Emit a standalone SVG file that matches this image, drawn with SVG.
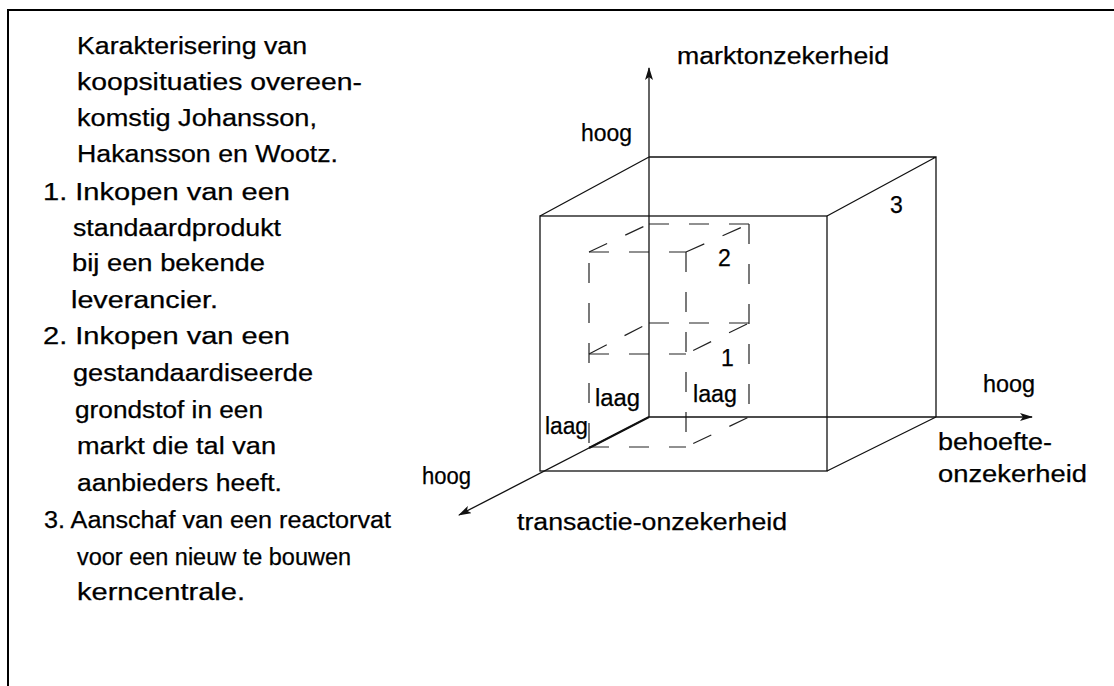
<svg xmlns="http://www.w3.org/2000/svg" width="1114" height="686" viewBox="0 0 1114 686">
<style>
  text { font-family: "Liberation Sans", Arial, sans-serif; font-size: 23px; fill: #000; stroke: #000; stroke-width: 0.25; }
  .solid { stroke: #111; stroke-width: 1.3; fill: none; }
  .dash { stroke: #222; stroke-width: 1.2; fill: none; stroke-dasharray: 20 20; }
  .axis { stroke: #111; stroke-width: 1.3; fill: none; marker-end: url(#ah); }
</style>
<defs>
  <marker id="ah" viewBox="0 0 13 8" refX="12" refY="4" markerWidth="13" markerHeight="8" orient="auto" markerUnits="userSpaceOnUse">
    <path d="M0,0 L13,4 L0,8 L3,4 z" fill="#111"/>
  </marker>
</defs>
<rect width="1114" height="686" fill="#fff"/>
<g id="frame">
  <path d="M8,686 L8,10 L1114,10" stroke="#000" stroke-width="2" fill="none"/>
</g>
<g id="description">
  <text x="77" y="54" textLength="230" lengthAdjust="spacingAndGlyphs">Karakterisering van</text>
  <text x="77" y="90" textLength="285" lengthAdjust="spacingAndGlyphs">koopsituaties overeen-</text>
  <text x="77" y="126" textLength="240" lengthAdjust="spacingAndGlyphs">komstig Johansson,</text>
  <text x="77" y="162" textLength="261" lengthAdjust="spacingAndGlyphs">Hakansson en Wootz.</text>
  <text x="43" y="200" textLength="247" lengthAdjust="spacingAndGlyphs">1. Inkopen van een</text>
  <text x="73" y="236" textLength="208" lengthAdjust="spacingAndGlyphs">standaardprodukt</text>
  <text x="72" y="271" textLength="193" lengthAdjust="spacingAndGlyphs">bij een bekende</text>
  <text x="71" y="308" textLength="147" lengthAdjust="spacingAndGlyphs">leverancier.</text>
  <text x="43" y="344" textLength="247" lengthAdjust="spacingAndGlyphs">2. Inkopen van een</text>
  <text x="73" y="381" textLength="240" lengthAdjust="spacingAndGlyphs">gestandaardiseerde</text>
  <text x="75" y="418" textLength="188" lengthAdjust="spacingAndGlyphs">grondstof in een</text>
  <text x="77" y="454" textLength="199" lengthAdjust="spacingAndGlyphs">markt die tal van</text>
  <text x="77" y="491" textLength="205" lengthAdjust="spacingAndGlyphs">aanbieders heeft.</text>
  <text x="44" y="528" textLength="347" lengthAdjust="spacingAndGlyphs">3. Aanschaf van een reactorvat</text>
  <text x="77" y="565" textLength="274" lengthAdjust="spacingAndGlyphs">voor een nieuw te bouwen</text>
  <text x="77" y="600" textLength="168" lengthAdjust="spacingAndGlyphs">kerncentrale.</text>
</g>
<g id="cube">
  <rect class="solid" x="540" y="216" width="287" height="255"/>
  <path class="solid" d="M649,157 L936,157 L936,417 M540,216 L649,157 M827,216 L936,157 M827,471 L936,417"/>
</g>
<g id="inner-boxes">
  <path class="dash" d="M649,224 L749,224"/>
  <path class="dash" d="M649,323 L749,323"/>
  <path class="dash" d="M589,252 L686,252"/>
  <path class="dash" d="M589,354 L686,354"/>
  <path class="dash" d="M589,447 L686,447"/>
  <path class="dash" d="M589,252 L589,447" style="stroke-dashoffset:29"/>
  <path class="dash" d="M686,252 L686,447"/>
  <path class="dash" d="M749,224 L749,417"/>
  <path class="dash" d="M589,252 L649,224"/>
  <path class="dash" d="M686,252 L749,224"/>
  <path class="dash" d="M589,354 L649,323"/>
  <path class="dash" d="M686,354 L749,323" style="stroke-dashoffset:32"/>
  <path class="dash" d="M686,447 L749,417" style="stroke-dashoffset:32"/>
  <path d="M649,417 L589,448" stroke="#111" stroke-width="2" fill="none"/>
</g>
<g id="axes">
  <path class="axis" d="M649,417 L649,68"/>
  <path class="axis" d="M649,417 L1032,417"/>
  <path class="axis" d="M649,417 L459,515"/>
</g>
<g id="labels">
  <text x="677" y="64" textLength="212" lengthAdjust="spacingAndGlyphs">marktonzekerheid</text>
  <text x="581" y="141" textLength="51" lengthAdjust="spacingAndGlyphs">hoog</text>
  <text x="890" y="213">3</text>
  <text x="718" y="266">2</text>
  <text x="721" y="366">1</text>
  <text x="595" y="406" textLength="45" lengthAdjust="spacingAndGlyphs">laag</text>
  <text x="693" y="402" textLength="44" lengthAdjust="spacingAndGlyphs">laag</text>
  <text x="545" y="434" textLength="43" lengthAdjust="spacingAndGlyphs">laag</text>
  <text x="983" y="392" textLength="52" lengthAdjust="spacingAndGlyphs">hoog</text>
  <text x="938" y="450" textLength="114" lengthAdjust="spacingAndGlyphs">behoefte-</text>
  <text x="938" y="482" textLength="149" lengthAdjust="spacingAndGlyphs">onzekerheid</text>
  <text x="422" y="484" textLength="49" lengthAdjust="spacingAndGlyphs">hoog</text>
  <text x="517" y="530" textLength="270" lengthAdjust="spacingAndGlyphs">transactie-onzekerheid</text>
</g>
</svg>
